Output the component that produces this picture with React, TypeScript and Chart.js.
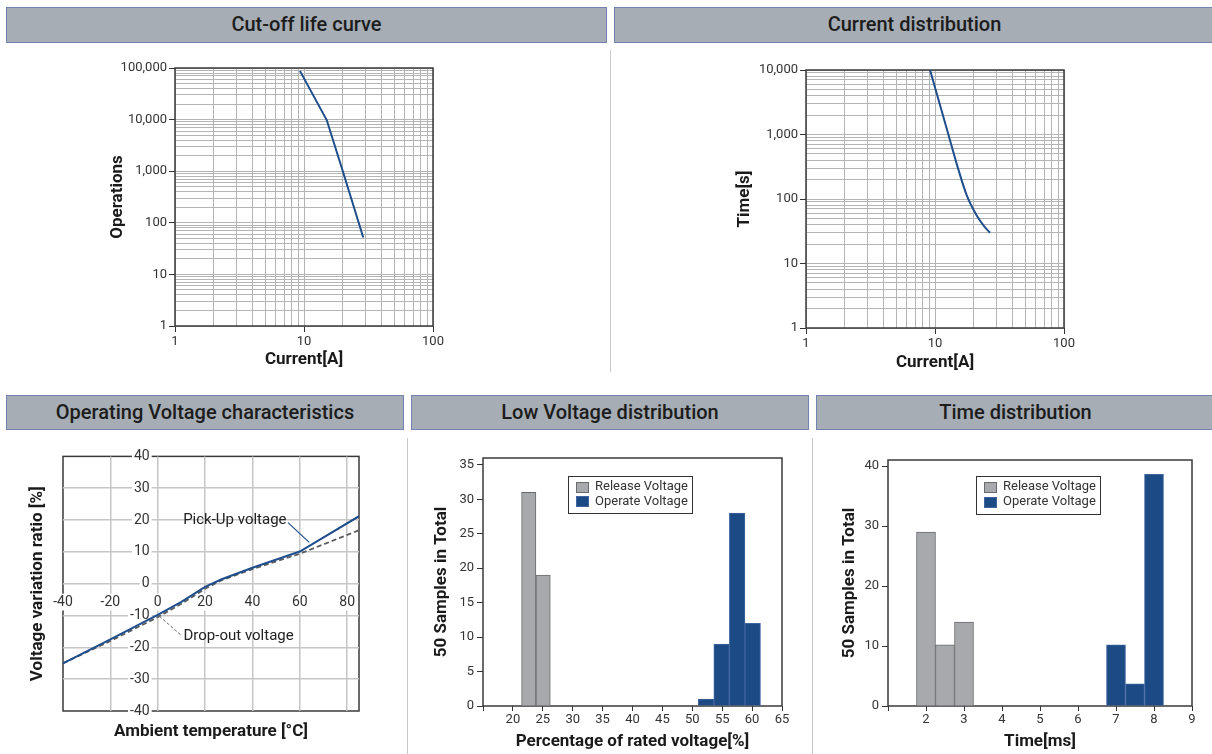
import React, { useEffect, useRef } from 'react';
import { Chart, registerables } from 'chart.js';

Chart.register(...registerables);

const FONT = 'Roboto, "Noto Sans", "DejaVu Sans", sans-serif';
Chart.defaults.font.family = FONT;
Chart.defaults.color = '#333';

const BLUE = '#1f4e8c';
const NAVY = '#1b4a85';
const NAVY_EDGE = '#3f64a0';
const GREY = '#a7a9ac';
const GREY_EDGE = '#6a6b6e';
const GRID = '#b4b4b4';
const TITLE_COLOR = '#1a1a1a';

// ---------- Cut-off life curve ----------
const lifeCurrent = [9.3, 15, 20, 28.8];
const lifeOperations = [88000, 9800, 1000, 52];
const lifeYTicks = [1, 10, 100, 1000, 10000, 100000];
const lifeYLabels = ['1', '10', '100', '1,000', '10,000', '100,000'];
const currentXTicks = [1, 10, 100];
const currentXLabels = ['1', '10', '100'];

// ---------- Current distribution ----------
const distCurrent = [9.15, 12.7, 14.8, 17.6, 21, 24, 26.7];
const distTime = [10000, 1000, 340, 115, 56, 38, 30];
const timeYTicks = [1, 10, 100, 1000, 10000];
const timeYLabels = ['1', '10', '100', '1,000', '10,000'];

// ---------- Operating Voltage characteristics ----------
const tempC = [-40, -20, 0, 10, 20, 27, 40, 60, 85];
const pickUp = [-25, -17.5, -9.8, -5.7, -1, 1.4, 5, 10.1, 21.2];
const dropOut = [-25, -18, -10.5, -6.3, -1.6, 1.1, 4.6, 9.4, 16.8];
const calloutTexts = ['Pick-Up voltage', 'Drop-out voltage'];
const calloutAnchors = [[54.4, 20], [10.9, -16.5]];
const calloutLines = [[[55, 19.2], [64, 13]], [[0.7, -10.2], [9.9, -16.2]]];

// ---------- Low Voltage distribution ----------
const lowReleaseBins = [22.65, 25.05];
const lowReleaseCounts = [31, 19];
const lowOperateBins = [52.3, 54.9, 57.5, 60.1];
const lowOperateCounts = [1, 9, 28, 12];
const lowXLabelled = [20, 25, 30, 35, 40, 45, 50, 55, 60, 65];

// ---------- Time distribution ----------
const timeReleaseBins = [2, 2.5, 3];
const timeReleaseCounts = [29, 10.2, 14];
const timeOperateBins = [7, 7.5, 8];
const timeOperateCounts = [10.2, 3.7, 38.6];
const timeXLabelled = [2, 3, 4, 5, 6, 7, 8, 9];

const seriesNames = ['Release Voltage', 'Operate Voltage'];

const headers = [
  { text: 'Cut-off life curve', left: 6, top: 7, width: 601, height: 36 },
  { text: 'Current distribution', left: 614, top: 7, width: 601, height: 36 },
  { text: 'Operating Voltage characteristics', left: 6, top: 395, width: 398, height: 35 },
  { text: 'Low Voltage distribution', left: 411, top: 395, width: 398, height: 35 },
  { text: 'Time distribution', left: 816, top: 395, width: 399, height: 35 },
];

const separators = [
  { left: 610, top: 50, height: 322 },
  { left: 407, top: 438, height: 316 },
  { left: 812, top: 438, height: 316 },
];

// ---------- helpers ----------
function decadeGrid(min: number, max: number): number[] {
  const out: number[] = [];
  for (let e = Math.floor(Math.log10(min)); Math.pow(10, e) <= max; e++) {
    for (let m = 1; m <= 9; m++) {
      const v = m * Math.pow(10, e);
      if (v >= min && v <= max) out.push(v);
    }
  }
  return out;
}

const axisTitle = (text: string, pad: any) => ({
  display: true,
  text,
  color: TITLE_COLOR,
  font: { size: 17, weight: 'bold' },
  padding: pad,
});

function logScale(cfg: {
  min: number; max: number; ticks: number[]; labels: string[]; title: string;
  size: number; horizontal: boolean; titlePad: number;
}) {
  const labelFor = (v: number) => {
    const i = cfg.ticks.indexOf(v);
    return i >= 0 ? cfg.labels[i] : '';
  };
  return {
    type: 'logarithmic',
    min: cfg.min,
    max: cfg.max,
    afterBuildTicks: (scale: any) => {
      scale.ticks = decadeGrid(cfg.min, cfg.max).map((value) => ({ value }));
    },
    afterFit: (scale: any) => {
      if (cfg.horizontal) scale.height = cfg.size; else scale.width = cfg.size;
    },
    ticks: {
      autoSkip: false, maxRotation: 0, minRotation: 0, padding: 2,
      color: '#333', font: { size: 13 },
      callback: (v: any) => labelFor(Number(v)),
    },
    grid: {
      color: GRID, lineWidth: 1, tickLength: 6, tickWidth: 1,
      tickColor: (c: any) => (c.tick && labelFor(c.tick.value) ? '#333' : 'rgba(0,0,0,0)'),
    },
    border: { display: false },
    title: axisTitle(cfg.title, cfg.horizontal ? { top: 0, bottom: cfg.titlePad } : { top: cfg.titlePad, bottom: 0 }),
  };
}

function framePlugin(under: boolean, color = '#3a3a3a', width = 1.5) {
  const draw = (chart: any) => {
    const { ctx, chartArea: a } = chart;
    ctx.save();
    ctx.strokeStyle = color;
    ctx.lineWidth = width;
    ctx.strokeRect(a.left, a.top, a.right - a.left, a.bottom - a.top);
    ctx.restore();
  };
  return {
    id: 'frame',
    beforeDraw: (chart: any) => { if (under) draw(chart); },
    beforeDatasetsDraw: (chart: any) => { if (!under) draw(chart); },
  };
}

function boxLegendPlugin(box: { x: number; y: number; w: number; h: number; row0: number; rowGap: number }) {
  return {
    id: 'boxLegend',
    afterDraw: (chart: any) => {
      const { ctx, chartArea } = chart;
      const x = Math.round(chartArea.left + box.x);
      const y = Math.round(chartArea.top + box.y);
      ctx.save();
      ctx.fillStyle = '#fff';
      ctx.fillRect(x, y, box.w, box.h);
      ctx.strokeStyle = '#333';
      ctx.lineWidth = 1;
      ctx.strokeRect(x + 0.5, y + 0.5, box.w, box.h);
      chart.data.datasets.forEach((ds: any, i: number) => {
        const ry = y + box.row0 + i * box.rowGap;
        ctx.fillStyle = ds.backgroundColor;
        ctx.fillRect(x + 8, Math.round(ry - 5.5), 13, 11);
        ctx.strokeStyle = ds.borderColor;
        ctx.strokeRect(x + 8.5, Math.round(ry - 5.5) + 0.5, 12, 10);
        ctx.fillStyle = '#333';
        ctx.font = `13px ${FONT}`;
        ctx.textAlign = 'left';
        ctx.textBaseline = 'middle';
        ctx.fillText(ds.label, x + 27, ry);
      });
      ctx.restore();
    },
  };
}

const calloutPlugin = {
  id: 'callouts',
  afterDatasetsDraw: (chart: any) => {
    const { ctx, scales } = chart;
    const sx = scales.x;
    const sy = scales.y;
    ctx.save();
    calloutTexts.forEach((text, i) => {
      const [[x0, y0], [x1, y1]] = calloutLines[i];
      const dashed = i === 1;
      ctx.beginPath();
      ctx.setLineDash(dashed ? [3, 2] : []);
      ctx.strokeStyle = dashed ? '#666' : BLUE;
      ctx.lineWidth = dashed ? 1 : 1.2;
      ctx.moveTo(sx.getPixelForValue(x0), sy.getPixelForValue(y0));
      ctx.lineTo(sx.getPixelForValue(x1), sy.getPixelForValue(y1));
      ctx.stroke();
      ctx.setLineDash([]);
      ctx.font = `15px ${FONT}`;
      ctx.fillStyle = '#222';
      ctx.textAlign = i === 0 ? 'right' : 'left';
      ctx.textBaseline = 'middle';
      const [ax, ay] = calloutAnchors[i];
      ctx.fillText(text, sx.getPixelForValue(ax), sy.getPixelForValue(ay));
    });
    ctx.restore();
  },
};

const baseOptions = (padding: any) => ({
  responsive: false,
  animation: false,
  events: [],
  layout: { padding },
  plugins: { legend: { display: false }, tooltip: { enabled: false } },
});

// ---------- chart configs ----------
function lifeConfig() {
  return {
    type: 'line',
    data: {
      datasets: [{
        data: lifeCurrent.map((x, i) => ({ x, y: lifeOperations[i] })),
        borderColor: BLUE, borderWidth: 2, pointRadius: 0, fill: false,
      }],
    },
    options: {
      ...baseOptions({ top: 13, right: 17, left: 0, bottom: 0 }),
      scales: {
        x: logScale({ min: 1, max: 100, ticks: currentXTicks, labels: currentXLabels, title: 'Current[A]', size: 49, horizontal: true, titlePad: 5 }),
        y: logScale({ min: 1, max: 100000, ticks: lifeYTicks, labels: lifeYLabels, title: 'Operations', size: 75, horizontal: false, titlePad: 8 }),
      },
    },
    plugins: [framePlugin(false)],
  };
}

function distConfig() {
  return {
    type: 'line',
    data: {
      datasets: [{
        data: distCurrent.map((x, i) => ({ x, y: distTime[i] })),
        borderColor: BLUE, borderWidth: 2, pointRadius: 0, fill: false,
        cubicInterpolationMode: 'monotone',
      }],
    },
    options: {
      ...baseOptions({ top: 15, right: 26, left: 0, bottom: 0 }),
      scales: {
        x: logScale({ min: 1, max: 100, ticks: currentXTicks, labels: currentXLabels, title: 'Current[A]', size: 47, horizontal: true, titlePad: 2 }),
        y: logScale({ min: 1, max: 10000, ticks: timeYTicks, labels: timeYLabels, title: 'Time[s]', size: 86, horizontal: false, titlePad: 15 }),
      },
    },
    plugins: [framePlugin(false)],
  };
}

function voltageConfig() {
  const GRID2 = '#c6c6c6';
  const edgeless = (c: any) =>
    c.tick && (c.tick.value === c.scale.min || c.tick.value === c.scale.max) ? 'rgba(0,0,0,0)' : GRID2;
  const tickCommon = {
    font: { size: 14 }, color: '#333',
    showLabelBackdrop: true, backdropColor: '#fff', backdropPadding: { x: 2, y: 0 },
    maxRotation: 0, autoSkip: false,
  };
  return {
    type: 'line',
    data: {
      datasets: [
        { label: 'Pick-Up voltage', data: tempC.map((x, i) => ({ x, y: pickUp[i] })), borderColor: BLUE, borderWidth: 2, pointRadius: 0 },
        { label: 'Drop-out voltage', data: tempC.map((x, i) => ({ x, y: dropOut[i] })), borderColor: '#5c5c5c', borderWidth: 1.8, borderDash: [5, 3], pointRadius: 0 },
      ],
    },
    options: {
      ...baseOptions({ top: 15, right: 45, left: 0, bottom: 0 }),
      scales: {
        x: {
          type: 'linear', position: { y: 0 }, min: -40, max: 85,
          ticks: { ...tickCommon, stepSize: 20, includeBounds: false, padding: 10 },
          grid: { color: edgeless, lineWidth: 1.5, drawTicks: false },
          border: { display: false },
        },
        y: {
          type: 'linear', position: { x: -3.4 }, min: -40, max: 40,
          ticks: { ...tickCommon, stepSize: 10, padding: 8 },
          grid: { color: edgeless, lineWidth: 1.5, drawTicks: false },
          border: { display: false },
        },
        xt: {
          type: 'linear', position: 'bottom', min: 0, max: 1,
          ticks: { display: false }, grid: { display: false }, border: { display: false },
          title: axisTitle('Ambient temperature [°C]', { top: 0, bottom: 12 }),
          afterFit: (s: any) => { s.height = 43; },
        },
        yt: {
          type: 'linear', position: 'left', min: 0, max: 1,
          ticks: { display: false }, grid: { display: false }, border: { display: false },
          title: axisTitle('Voltage variation ratio [%]', { top: 28, bottom: 0 }),
          afterFit: (s: any) => { s.width = 63; },
        },
      },
    },
    plugins: [framePlugin(true), calloutPlugin],
  };
}

function histConfig(cfg: {
  releaseBins: number[]; releaseCounts: number[]; operateBins: number[]; operateCounts: number[];
  xmin: number; xmax: number; xstep: number; xLabelled: number[]; ymax: number; ystep: number;
  xTitle: string; yTitlePad: number; padding: any; legend: any;
}) {
  const xCommon = { type: 'linear', min: cfg.xmin, max: cfg.xmax, offset: false };
  return {
    type: 'bar',
    data: {
      datasets: [
        {
          label: seriesNames[0], xAxisID: 'x', grouped: false,
          data: cfg.releaseBins.map((x, i) => ({ x, y: cfg.releaseCounts[i] })),
          backgroundColor: GREY, borderColor: GREY_EDGE, borderWidth: 1,
          barPercentage: 1, categoryPercentage: 1,
        },
        {
          label: seriesNames[1], xAxisID: 'x2', grouped: false,
          data: cfg.operateBins.map((x, i) => ({ x, y: cfg.operateCounts[i] })),
          backgroundColor: NAVY, borderColor: NAVY_EDGE, borderWidth: 1,
          barPercentage: 1, categoryPercentage: 1,
        },
      ],
    },
    options: {
      ...baseOptions(cfg.padding),
      scales: {
        x: {
          ...xCommon,
          ticks: {
            stepSize: cfg.xstep, padding: 1, font: { size: 13 }, color: '#333', maxRotation: 0, autoSkip: false,
            callback: (v: any) => (cfg.xLabelled.includes(Number(v)) ? String(v) : ''),
          },
          grid: { display: true, drawOnChartArea: false, offset: false, tickLength: 5, tickColor: '#333', tickWidth: 1 },
          border: { display: false },
          title: axisTitle(cfg.xTitle, { top: 0, bottom: 2 }),
          afterFit: (s: any) => { s.height = 48; },
        },
        x2: { ...xCommon, display: false, ticks: { stepSize: cfg.xstep } },
        y: {
          type: 'linear', min: 0, max: cfg.ymax,
          ticks: { stepSize: cfg.ystep, includeBounds: false, padding: 3, font: { size: 13 }, color: '#333' },
          grid: { display: true, drawOnChartArea: false, tickLength: 6, tickColor: '#333', tickWidth: 1 },
          border: { display: false },
          title: axisTitle('50 Samples in Total', { top: cfg.yTitlePad, bottom: 0 }),
          afterFit: (s: any) => { s.width = 73; },
        },
      },
    },
    plugins: [framePlugin(false), boxLegendPlugin(cfg.legend)],
  };
}

function lowVoltConfig() {
  return histConfig({
    releaseBins: lowReleaseBins, releaseCounts: lowReleaseCounts,
    operateBins: lowOperateBins, operateCounts: lowOperateCounts,
    xmin: 15, xmax: 65, xstep: 5, xLabelled: lowXLabelled, ymax: 36, ystep: 5,
    xTitle: 'Percentage of rated voltage[%]', yTitlePad: 22,
    padding: { top: 18, right: 28, left: 0, bottom: 0 },
    legend: { x: 85, y: 18, w: 124, h: 37, row0: 11, rowGap: 14.5 },
  });
}

function timeDistConfig() {
  return histConfig({
    releaseBins: timeReleaseBins, releaseCounts: timeReleaseCounts,
    operateBins: timeOperateBins, operateCounts: timeOperateCounts,
    xmin: 1, xmax: 9, xstep: 1, xLabelled: timeXLabelled, ymax: 41, ystep: 10,
    xTitle: 'Time[ms]', yTitlePad: 25,
    padding: { top: 20, right: 20, left: 0, bottom: 0 },
    legend: { x: 88, y: 16, w: 124, h: 38, row0: 11, rowGap: 15 },
  });
}

function ChartBox({ left, top, width, height, build }: { left: number; top: number; width: number; height: number; build: () => any }) {
  const ref = useRef<HTMLCanvasElement>(null);
  useEffect(() => {
    const chart = new Chart(ref.current as HTMLCanvasElement, build());
    return () => chart.destroy();
  }, []);
  return (
    <canvas
      ref={ref}
      width={width}
      height={height}
      style={{ position: 'absolute', left, top, width, height, display: 'block' }}
    />
  );
}

export default function App() {
  return (
    <div
      style={{
        position: 'fixed', left: 0, top: 0, width: 1212, height: 754,
        background: '#fff', overflow: 'hidden', fontFamily: FONT,
      }}
    >
      {headers.map((h) => (
        <div
          key={h.text}
          style={{
            position: 'absolute', left: h.left, top: h.top, width: h.width, height: h.height,
            boxSizing: 'border-box', background: '#a6adb4', border: '1.5px solid #7282b2',
            color: '#1c1c1c', fontSize: 20, fontWeight: 500, textAlign: 'center',
            lineHeight: `${h.height - 3}px`,
          }}
        >
          {h.text}
        </div>
      ))}
      {separators.map((s, i) => (
        <div
          key={i}
          style={{ position: 'absolute', left: s.left, top: s.top, width: 1, height: s.height, background: '#c9c9c9' }}
        />
      ))}
      <ChartBox left={100} top={55} width={350} height={320} build={lifeConfig} />
      <ChartBox left={720} top={55} width={370} height={320} build={distConfig} />
      <ChartBox left={0} top={440} width={404} height={314} build={voltageConfig} />
      <ChartBox left={410} top={440} width={400} height={314} build={lowVoltConfig} />
      <ChartBox left={815} top={440} width={397} height={314} build={timeDistConfig} />
    </div>
  );
}
